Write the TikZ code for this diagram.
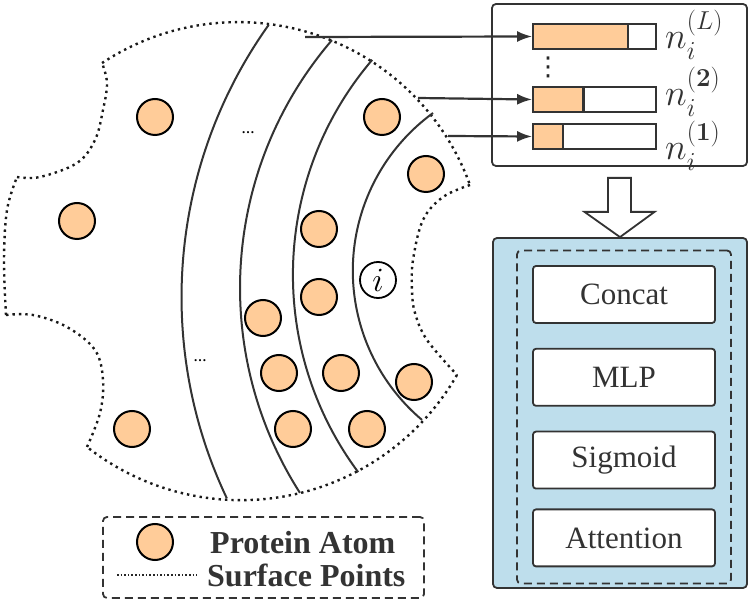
\documentclass[tikz,border=0pt]{standalone}
\usepackage{fix-cm}
\usepackage{amsmath,amssymb}
\usepackage[no-math]{fontspec}
\setmainfont{Liberation Serif}
\newfontfamily\symfont{DejaVu Sans}
\usepackage{tikz}
\usetikzlibrary{arrows.meta,positioning,calc}
\definecolor{atomfill}{HTML}{FFCC99}
\definecolor{blockblue}{HTML}{BEDEEC}
\definecolor{inkgray}{HTML}{333333}
\tikzset{
  atom/.style={circle, draw=black, fill=atomfill, line width=2pt, minimum size=36pt, inner sep=0pt},
  center/.style={circle, draw=black, fill=white, line width=1.8pt, minimum size=36pt, inner sep=0pt, font=\fontsize{34}{36}\selectfont},
  surface/.style={draw=black!90, line width=2.4pt, dash pattern=on 2.4pt off 4pt},
  layer/.style={draw=inkgray, line width=2pt},
  featbar/.style={draw=inkgray, line width=1.8pt, minimum width=123pt, minimum height=25pt, inner sep=0pt,
    path picture={
      \fill[atomfill] (path picture bounding box.south west) rectangle
        ($(path picture bounding box.north west)!#1!(path picture bounding box.north east)$);
      \draw[inkgray, line width=2.2pt] ($(path picture bounding box.south west)!#1!(path picture bounding box.south east)$) --
        ($(path picture bounding box.north west)!#1!(path picture bounding box.north east)$);}},
  featlbl/.style={anchor=base west, inner sep=0pt, text=inkgray, font=\fontsize{37}{42}\selectfont},
  opbox/.style={draw=inkgray, rounded corners=3pt, fill=white, line width=1.8pt, minimum width=182pt, minimum height=57pt,
    align=center, text=inkgray, font=\fontsize{31}{34}\selectfont},
  legtext/.style={anchor=base west, inner sep=0pt, text=inkgray, font=\fontsize{32}{34}\selectfont\bfseries},
  arr/.style={-{Latex[length=15pt,width=11pt]}, draw=inkgray, line width=2.2pt},
  hollow/.style={draw=inkgray, fill=white, line width=1.8pt, line join=miter}
}
\begin{document}
\begin{tikzpicture}[x=1pt, y=-1pt, node distance=24pt]
  \useasboundingbox (0,0) rectangle (748,601);

  % surface of the pocket
  \draw[surface] (238.1,268.6) ++(-123.5:246.5) arc[start angle=-123.5, end angle=-19.8, radius=246.5];
  \draw[surface] plot[smooth, tension=0.6] coordinates {(470,185) (443,197) (423,220) (413,260) (412,290) (415,313) (427,340) (457,375)};
  \draw[surface] (240.9,251.2) ++(29.8:249) arc[start angle=29.8, end angle=128.2, radius=249];
  \draw[surface] plot[smooth, tension=0.6] coordinates {(87,447) (100,413) (103,380) (95,350) (67,327) (33,315) (6,315)};
  \draw[surface] plot[smooth, tension=0.6] coordinates {(6,315) (4,260) (7,210) (17,177)};
  \draw[surface] plot[smooth, tension=0.6] coordinates {(17,177) (40,177) (77,163) (95,140) (103,110) (107,83) (102,63)};

  % distance shells
  \draw[layer] (650.5,297.2) ++(215.5:469) arc[start angle=215.5, end angle=154.6, radius=469];
  \draw[layer] (620.2,288) ++(220.7:380.2) arc[start angle=220.7, end angle=147.4, radius=380.2];
  \draw[layer] (623.9,274.8) ++(220.5:331) arc[start angle=220.5, end angle=143.4, radius=331];
  \draw[layer] (548.1,270.8) ++(233.9:195.3) arc[start angle=233.9, end angle=130.2, radius=195.3];

  % atoms
  \node[atom] (a1) at (155,117) {};
  \node[atom] (a2) at (382,117) {};
  \node[atom] (a3) at (426,174) {};
  \node[atom] (a4) at (77,221) {};
  \node[atom] (a5) at (319,229) {};
  \node[atom] (a6) at (319,297) {};
  \node[atom] (a7) at (263,318) {};
  \node[atom] (a8) at (279,373) {};
  \node[atom] (a9) at (341,373) {};
  \node[atom] (a10) at (414,382) {};
  \node[atom] (a11) at (293,429) {};
  \node[atom] (a12) at (367,429) {};
  \node[atom] (a13) at (132,429) {};
  \node[center] (pt) at (378,280) {$i$};
  \node[font=\fontsize{13}{13}\selectfont\bfseries, inner sep=0pt] (dotsU) at (248,133) {\ldots};
  \node[font=\fontsize{13}{13}\selectfont\bfseries, inner sep=0pt] (dotsD) at (200,361) {\ldots};

  % legend
  \node[draw=inkgray, dash pattern=on 8pt off 5pt, line width=1.8pt, rounded corners=4pt,
        minimum width=321pt, minimum height=81pt] (legend) at (263.5,557.5) {};
  \node[atom] (legatom) at (155,542) {};
  \draw[draw=black!85, line width=1.6pt, dash pattern=on 1.6pt off 2pt] (117,575) -- (197,575);
  \node[legtext] (legA) at (210,554) {Protein Atom};
  \node[legtext] (legS) at (207,587) {Surface Points};

  % multi-scale features
  \node[draw=inkgray, line width=1.8pt, rounded corners=4pt, minimum width=255pt, minimum height=162pt] (feat) at (619.5,85) {};
  \node[featbar=0.77] (barL) at (594.5,36.5) {};
  \node[featbar=0.41] (bar2) at (594.5,99.5) {};
  \node[featbar=0.245] (bar1) at (594.5,136.5) {};
  \node[inner sep=0pt, text=black!85, font=\fontsize{26}{26}\selectfont\symfont] (vd) at (548,67) {⋮};
  \node[featlbl] (lblL) at (665,49) {$n_i^{(L)}$};
  \node[featlbl] (lbl2) at (665,106) {$n_i^{\mathbf{(2)}}$};
  \node[featlbl] (lbl1) at (665,160) {$n_i^{\mathbf{(1)}}$};
  \coordinate (srcL) at (305,37);
  \coordinate (src2) at (418,98);
  \coordinate (src1) at (448,136);
  \draw[arr] (srcL) -- (barL.west);
  \draw[arr] (src2) -- (bar2.west);
  \draw[arr] (src1) -- (bar1.west);

  % fusion block
  \node[draw=inkgray, fill=blockblue, line width=1.8pt, rounded corners=4pt, minimum width=254pt, minimum height=350pt] (block) at (620,413) {};
  \node[draw=inkgray, dash pattern=on 8pt off 5pt, line width=1.8pt, rounded corners=4pt, minimum width=214pt, minimum height=333pt] (inner) at (624,417) {};
  \node[opbox] (concat) at (624,294.5) {Concat};
  \node[opbox, below=of concat] (mlp) {MLP};
  \node[opbox, below=of mlp] (sig) {Sigmoid};
  \node[opbox, below=19pt of sig] (att) {Attention};

  \draw[hollow] ([xshift=-11.5pt,yshift=-11pt]feat.south) -- ([xshift=-11.5pt,yshift=-45pt]feat.south)
    -- ([xshift=-35pt,yshift=-45pt]feat.south) -- (block.north) -- ([xshift=35pt,yshift=-45pt]feat.south)
    -- ([xshift=11.5pt,yshift=-45pt]feat.south) -- ([xshift=11.5pt,yshift=-11pt]feat.south) -- cycle;
\end{tikzpicture}
\end{document}
